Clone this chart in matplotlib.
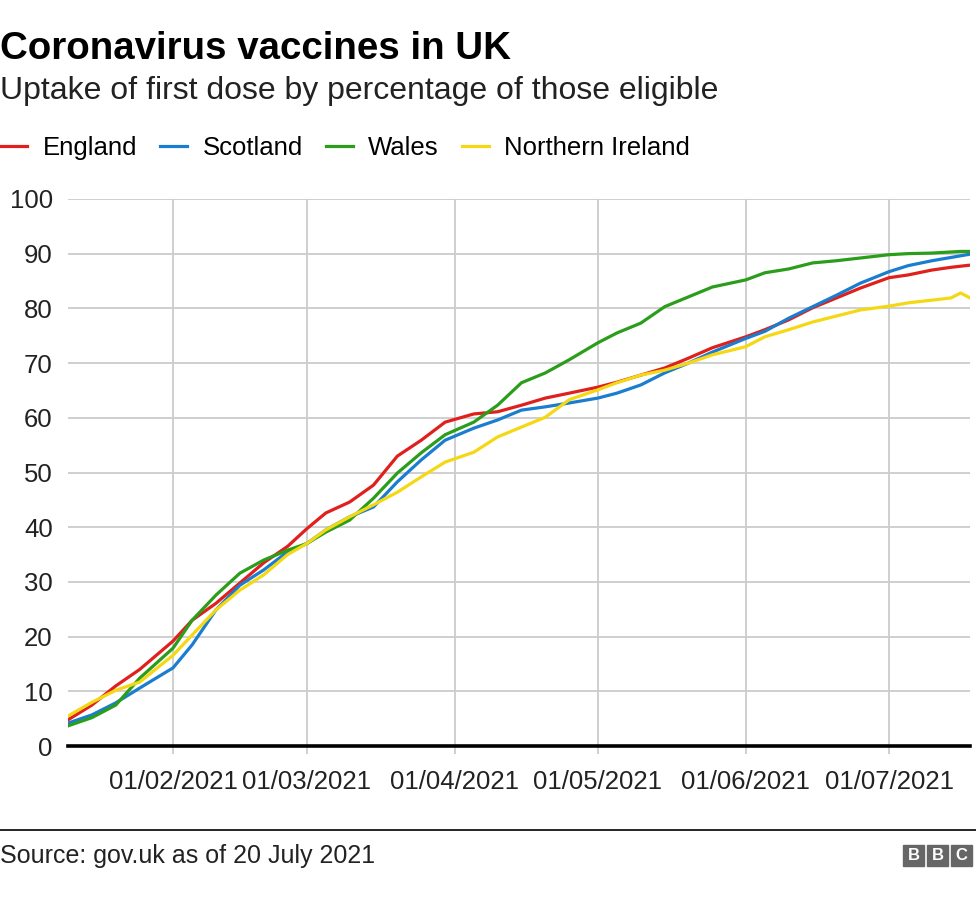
import matplotlib
matplotlib.use("Agg")
import matplotlib.pyplot as plt
import matplotlib.dates as mdates
from matplotlib.patches import Rectangle
import pandas as pd

plt.rcParams['font.family'] = ['Liberation Sans', 'DejaVu Sans']

# reading dates (2021)
dates = pd.to_datetime([
    "2021-01-10", "2021-01-15", "2021-01-20", "2021-01-25", "2021-02-01",
    "2021-02-05", "2021-02-10", "2021-02-15", "2021-02-20", "2021-02-25",
    "2021-03-01", "2021-03-05", "2021-03-10", "2021-03-15", "2021-03-20",
    "2021-03-25", "2021-03-30", "2021-04-05", "2021-04-10", "2021-04-15",
    "2021-04-20", "2021-04-25", "2021-05-01", "2021-05-05", "2021-05-10",
    "2021-05-15", "2021-05-20", "2021-05-25", "2021-06-01", "2021-06-05",
    "2021-06-10", "2021-06-15", "2021-06-20", "2021-06-25", "2021-07-01",
    "2021-07-05", "2021-07-10", "2021-07-14", "2021-07-16", "2021-07-18",
])

england = [4.8, 7.5, 11.0, 14.0, 19.2, 23.0, 26.1, 29.8, 33.5, 36.5,
           39.7, 42.6, 44.6, 47.7, 53.0, 55.9, 59.2, 60.7, 61.1, 62.3,
           63.6, 64.5, 65.6, 66.5, 67.8, 69.1, 70.9, 72.8, 74.8, 76.1,
           77.9, 80.1, 81.9, 83.7, 85.6, 86.1, 87.0, 87.5, 87.7, 87.9]
scotland = [4.2, 5.7, 7.9, 10.6, 14.3, 18.5, 24.9, 29.4, 32.2, 35.5,
            37.0, 39.5, 41.9, 43.7, 48.3, 52.3, 55.9, 58.1, 59.6, 61.4,
            62.0, 62.7, 63.6, 64.5, 66.0, 68.2, 70.0, 72.0, 74.5, 75.8,
            78.2, 80.3, 82.4, 84.6, 86.7, 87.8, 88.7, 89.3, 89.6, 89.9]
wales = [3.7, 5.2, 7.5, 12.4, 17.9, 23.0, 27.6, 31.6, 34.0, 35.8,
         37.0, 39.1, 41.3, 45.3, 49.9, 53.6, 56.9, 59.2, 62.3, 66.4,
         68.2, 70.6, 73.7, 75.5, 77.3, 80.3, 82.1, 83.9, 85.2, 86.5,
         87.2, 88.3, 88.7, 89.2, 89.8, 90.0, 90.1, 90.3, 90.4, 90.4]
northern_ireland = [5.5, 8.0, 10.2, 11.7, 16.6, 20.3, 24.9, 28.5, 31.3, 35.0,
                    37.0, 39.5, 41.9, 44.1, 46.4, 49.2, 51.9, 53.7, 56.5, 58.3,
                    60.1, 63.3, 65.1, 66.4, 67.8, 68.7, 70.0, 71.5, 73.0, 74.8,
                    76.1, 77.5, 78.6, 79.7, 80.4, 81.0, 81.5, 81.9, 82.8, 81.9]

names = ["England", "Scotland", "Wales", "Northern Ireland"]
colours = ["#e0201c", "#1a7dcf", "#2a9e1a", "#f5d814"]
tick_dates = pd.to_datetime(["2021-02-01", "2021-03-01", "2021-04-01",
                             "2021-05-01", "2021-06-01", "2021-07-01"])

fig = plt.figure(figsize=(9.76, 9.0), dpi=100)
ax = fig.add_axes([0.0697, 0.171, 0.9243, 0.608])

for series, name, col in zip([england, scotland, wales, northern_ireland], names, colours):
    ax.plot(dates, series, color=col, lw=2.3, label=name, solid_joinstyle="round")

ax.set_xlim(dates[0], dates[-1])
ax.set_ylim(0, 100)
ax.set_yticks(range(0, 101, 10))
ax.set_xticks(tick_dates)
ax.xaxis.set_major_formatter(mdates.DateFormatter("%d/%m/%Y"))
ax.grid(True, color="#cccccc", lw=1.3)
ax.set_axisbelow(True)
for s in ["top", "right", "left"]:
    ax.spines[s].set_visible(False)
ax.spines["bottom"].set_color("black")
ax.spines["bottom"].set_linewidth(2.6)
ax.spines["bottom"].set_zorder(5)
ax.tick_params(axis="y", length=0, pad=11, labelsize=18.5, labelcolor="#222222")
ax.tick_params(axis="x", length=6, width=1.3, color="#cccccc", pad=11,
               labelsize=18.5, labelcolor="#222222")

fig.text(0.0, 0.946, "Coronavirus vaccines in UK", fontsize=27.7, fontweight="bold",
         va="center", ha="left")
fig.text(0.0, 0.899, "Uptake of first dose by percentage of those eligible",
         fontsize=23, va="center", ha="left", color="#222222")

fig.legend(loc="center left", bbox_to_anchor=(0.0, 0.836), ncol=4, frameon=False,
           fontsize=18.5, handlelength=1.05, handletextpad=0.6, columnspacing=0.9,
           borderaxespad=0, borderpad=0)

# footer
fig.add_artist(plt.Line2D([0, 1], [0.078, 0.078], color="black", lw=1.2))
fig.text(0.0, 0.049, "Source: gov.uk as of 20 July 2021", fontsize=18,
         va="center", ha="left", color="#222222")
for i, letter in enumerate("BBC"):
    x0 = 0.9252 + i * 0.0246
    fig.add_artist(Rectangle((x0, 0.038), 0.0215, 0.023, color="#666666",
                             transform=fig.transFigure))
    fig.text(x0 + 0.01075, 0.0495, letter, fontsize=12, fontweight="bold",
             color="white", ha="center", va="center")

fig.savefig("out.png", dpi=100)
